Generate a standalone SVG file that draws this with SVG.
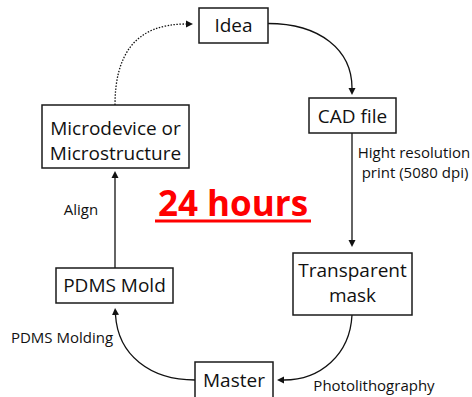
<svg xmlns="http://www.w3.org/2000/svg" width="472" height="397" viewBox="0 0 472 397">
  <style>
    .box { fill: #fff; stroke: #1a1a1a; stroke-width: 1.5; }
    .lbl { font-family: "Open Sans", "Noto Sans", sans-serif; font-size: 19px; fill: #111; text-anchor: middle; }
    .note { font-family: "Open Sans", "Noto Sans", sans-serif; font-size: 15px; fill: #111; text-anchor: middle; }
    .edge { fill: none; stroke: #111; stroke-width: 1.3; }
    .dotted { stroke-dasharray: 1.5 1.5; }
  </style>
  <defs>
    <marker id="arrow" viewBox="0 0 8 8" refX="0" refY="4" markerWidth="8" markerHeight="8" markerUnits="userSpaceOnUse" orient="auto">
      <path d="M0,0.5 L7,4 L0,7.5 Z" fill="#111"/>
    </marker>
  </defs>
  <rect width="472" height="397" fill="#fff"/>

  <g id="connectors">
    <path class="edge" d="M268,23.5 C320,23.5 352,50 352,88" marker-end="url(#arrow)"/>
    <path class="edge" d="M352,133 L352,240" marker-end="url(#arrow)"/>
    <path class="edge" d="M352,315 C350,355 320,380 284,380" marker-end="url(#arrow)"/>
    <path class="edge" d="M195,380 C150,380 118,355 115.5,315" marker-end="url(#arrow)"/>
    <path class="edge" d="M115,268 L115,178" marker-end="url(#arrow)"/>
    <path class="edge dotted" d="M115,105 C115,55 135,24 186,24" marker-end="url(#arrow)"/>
  </g>

  <g id="idea">
    <rect class="box" x="199" y="8" width="69" height="35"/>
    <text class="lbl" x="233.5" y="32">Idea</text>
  </g>
  <g id="cad-file">
    <rect class="box" x="309" y="98" width="87" height="35"/>
    <text class="lbl" x="352.5" y="122.5">CAD file</text>
  </g>
  <g id="transparent-mask">
    <rect class="box" x="293" y="253" width="119" height="62"/>
    <text class="lbl" x="352.5" y="277">Transparent</text>
    <text class="lbl" x="352.5" y="301.5">mask</text>
  </g>
  <g id="master">
    <rect class="box" x="195" y="362" width="78" height="40"/>
    <text class="lbl" x="234" y="386.5">Master</text>
  </g>
  <g id="pdms-mold">
    <rect class="box" x="56" y="268" width="117" height="35"/>
    <text class="lbl" x="114.5" y="291.5">PDMS Mold</text>
  </g>
  <g id="microdevice">
    <rect class="box" x="42" y="105" width="147" height="63"/>
    <text class="lbl" x="115.5" y="134.5">Microdevice or</text>
    <text class="lbl" x="115.5" y="160">Microstructure</text>
  </g>

  <g id="edge-labels">
    <text class="note" x="414" y="158">Hight resolution</text>
    <text class="note" x="415" y="178">print (5080 dpi)</text>
    <text class="note" x="81" y="215">Align</text>
    <text class="note" x="62" y="342.5">PDMS Molding</text>
    <text class="note" x="374" y="390.5">Photolithography</text>
  </g>

  <g id="duration">
    <text x="233" y="216" font-family="'Open Sans', 'Noto Sans', sans-serif" font-size="35" font-weight="bold" fill="#ff0000" text-anchor="middle">24 hours</text>
    <rect x="155" y="219.5" width="156" height="3" fill="#ff0000"/>
  </g>
</svg>
